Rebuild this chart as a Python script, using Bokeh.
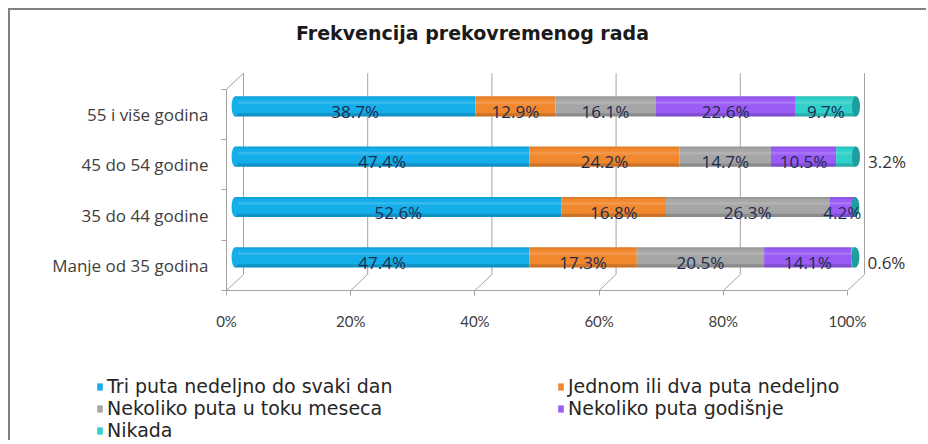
import numpy as np
from bokeh.plotting import figure
from bokeh.models import Range1d, FixedTicker, PrintfTickFormatter, Legend, LegendItem, Label
from bokeh.core.properties import value
from bokeh.embed import file_html
from bokeh.resources import INLINE

# ---------------- data ----------------
categories = ["Manje od 35 godina", "35 do 44 godine", "45 do 54 godine", "55 i više godina"]
series_names = ["Tri puta nedeljno do svaki dan", "Jednom ili dva puta nedeljno",
                "Nekoliko puta u toku meseca", "Nekoliko puta godišnje", "Nikada"]
tri_puta = [47.4, 52.6, 47.4, 38.7]
jednom_dva = [17.3, 16.8, 24.2, 12.9]
nekoliko_mesec = [20.5, 26.3, 14.7, 16.1]
nekoliko_godisnje = [14.1, 4.2, 10.5, 22.6]
nikada = [0.6, 0.0, 3.2, 9.7]
x_ticks = [0, 20, 40, 60, 80, 100]
title_text = "Frekvencija prekovremenog rada"

series = [tri_puta, jednom_dva, nekoliko_mesec, nekoliko_godisnje, nikada]
colors = ["#14AEEA", "#F2882E", "#A6A6A6", "#9A5CF5", "#31D0CB"]
cap_color = "#1E9E9E"

# ---------------- geometry / style ----------------
W, H1, H2 = 918, 336, 96
FRAME_LEFT, FRAME_W, FRAME_H = 216, 689, 280
PX_PER_UNIT_X = 6.21      # pixels per percent
PX_PER_ROW = 50.33        # pixels per category row
DEPTH_X = 17 / PX_PER_UNIT_X   # 3-D depth of the plot box, in x units
DEPTH_Y = 16 / PX_PER_ROW      # 3-D depth, in y units
BAR_DX = DEPTH_X / 2
FRONT_DY = DEPTH_Y / 2
y0 = -0.5 - FRONT_DY
x_end = FRAME_W / PX_PER_UNIT_X
y_end = y0 + FRAME_H / PX_PER_ROW
y_top = len(categories) - 0.5 - FRONT_DY
TITLE_PX = (246, 22)      # title centre: px from frame left, px from top

p = figure(width=W, height=H1, output_backend="svg", toolbar_location=None,
           x_range=Range1d(0, x_end), y_range=Range1d(y0, y_end),
           min_border_left=FRAME_LEFT, min_border_right=W - FRAME_LEFT - FRAME_W,
           min_border_top=0, min_border_bottom=H1 - FRAME_H,
           background_fill_color="white", border_fill_color="white",
           outline_line_color=None,
           styles={"margin-left": "8px", "margin-top": "8px",
                   "border-left": "2px solid #7f7f7f", "border-top": "2px solid #7f7f7f"})
p.grid.visible = False
p.extra_x_ranges = {"bars": Range1d(-BAR_DX, x_end - BAR_DX)}

GRID = "#a3a3a3"
# back wall grid lines and floor slants
p.segment(x0=[t + DEPTH_X for t in x_ticks], y0=[y0 + DEPTH_Y] * len(x_ticks),
          x1=[t + DEPTH_X for t in x_ticks], y1=[y_top + DEPTH_Y] * len(x_ticks),
          line_color=GRID, line_width=1)
p.segment(x0=x_ticks, y0=[y0] * len(x_ticks),
          x1=[t + DEPTH_X for t in x_ticks], y1=[y0 + DEPTH_Y] * len(x_ticks),
          line_color=GRID, line_width=1)
p.segment(x0=[0], y0=[y_top], x1=[DEPTH_X], y1=[y_top + DEPTH_Y],
          line_color=GRID, line_width=1)

rows = np.arange(len(categories))
BAR_H = 0.40
left = np.zeros(len(categories))
label_x, label_y, label_t, label_c = [], [], [], []
for name, vals, col in zip(series_names, series, colors):
    vals = np.array(vals, dtype=float)
    right = left + vals
    p.hbar(y=rows, left=left, right=right, height=BAR_H, fill_color=col,
           line_color=None, x_range_name="bars")
    # cylinder shading
    p.hbar(y=rows - BAR_H * 0.42, left=left, right=right, height=BAR_H * 0.16,
           fill_color="black", fill_alpha=0.16, line_color=None, x_range_name="bars")
    p.hbar(y=rows + BAR_H * 0.45, left=left, right=right, height=BAR_H * 0.10,
           fill_color="black", fill_alpha=0.07, line_color=None, x_range_name="bars")
    p.hbar(y=rows + BAR_H * 0.18, left=left, right=right, height=BAR_H * 0.14,
           fill_color="white", fill_alpha=0.14, line_color=None, x_range_name="bars")
    for i, v in enumerate(vals):
        if v <= 0:
            continue
        if v < 4:
            label_x.append(right[i] + 5.0)
            label_c.append("#333333")
        else:
            label_x.append(left[i] + v / 2)
            label_c.append("#1d2b4f")
        label_y.append(rows[i] - 0.1)
        label_t.append(f"{v:.1f}%")
    left = right

totals = left
p.ellipse(x=[0] * len(categories), y=rows, width=1.1, height=BAR_H,
          fill_color=colors[0], line_color=None, x_range_name="bars")
p.ellipse(x=totals, y=rows, width=1.3, height=BAR_H,
          fill_color=cap_color, line_color=None, x_range_name="bars")

p.text(x=label_x, y=label_y, text=label_t, text_color=label_c,
       text_font=value("Open Sans"), text_font_size="17px",
       text_align="center", text_baseline="middle", x_range_name="bars")

# ---------------- axes ----------------
xa = p.xaxis[0]
xa.ticker = FixedTicker(ticks=x_ticks, minor_ticks=[])
xa.formatter = PrintfTickFormatter(format="%d%%")
xa.bounds = (0, 100)
xa.axis_line_color = GRID
xa.major_tick_line_color = GRID
xa.major_tick_out = 5
xa.major_tick_in = 0
xa.major_label_standoff = 16
xa.major_label_text_font = "Lato"
xa.major_label_text_font_size = "15px"
xa.major_label_text_color = "#404040"

ya = p.yaxis[0]
ya.ticker = FixedTicker(ticks=[k - FRONT_DY for k in rows],
                        minor_ticks=[k - 0.5 - FRONT_DY for k in range(len(categories) + 1)])
ya.major_label_overrides = {float(k - FRONT_DY): c for k, c in zip(rows, categories)}
ya.bounds = (y0, y_top)
ya.axis_line_color = GRID
ya.major_tick_out = 0
ya.major_tick_in = 0
ya.minor_tick_out = 5
ya.minor_tick_in = 0
ya.minor_tick_line_color = GRID
ya.major_label_standoff = 13
ya.major_label_text_font = "Open Sans"
ya.major_label_text_font_size = "17px"
ya.major_label_text_color = "#404040"

# ---------------- title ----------------
p.add_layout(Label(x=TITLE_PX[0] / PX_PER_UNIT_X, y=y_end - TITLE_PX[1] / PX_PER_ROW,
                   text=title_text, text_align="center", text_baseline="middle",
                   text_font="DejaVu Sans", text_font_size="19px", text_font_style="bold",
                   text_color="#1a1a1a"))

# ---------------- legend (separate root below the chart) ----------------
pl = figure(width=W, height=H2, output_backend="svg", toolbar_location=None,
            x_range=Range1d(0, 1), y_range=Range1d(0, 1),
            x_axis_type=None, y_axis_type=None, min_border=0,
            background_fill_color="white", border_fill_color="white",
            outline_line_color=None,
            styles={"margin-left": "8px", "border-left": "2px solid #7f7f7f"})
pl.grid.visible = False
items = []
for name, col in zip(series_names, colors):
    # legend proxy glyph, placed outside the visible range
    r = pl.hbar(y=[-1], left=[0], right=[0], height=0.1, fill_color=col, line_color=None)
    items.append(LegendItem(label=name, renderers=[r]))
legend = Legend(items=items, location=(86, -1), orientation="horizontal",
                nrows=3, ncols=2, glyph_width=7, glyph_height=9, label_standoff=4,
                label_width=450, spacing=-1, padding=0, margin=0,
                border_line_color=None, background_fill_alpha=0,
                label_text_font="DejaVu Sans", label_text_font_size="19px",
                label_text_color="#262626")
pl.add_layout(legend, "center")

open("out.html", "w").write(file_html([p, pl], INLINE))
